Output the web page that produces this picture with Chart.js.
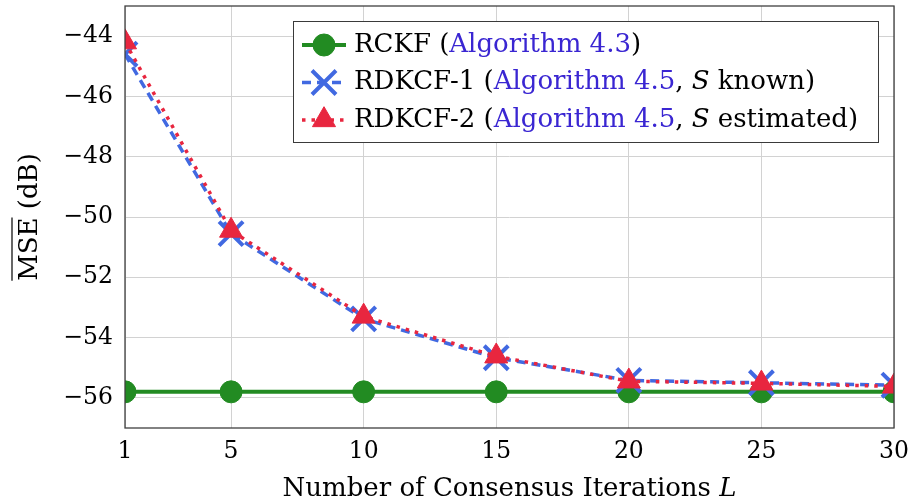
<!DOCTYPE html>
<html>
<head>
<meta charset="utf-8">
<script src="https://cdn.jsdelivr.net/npm/chart.js@4.4.1/dist/chart.umd.min.js"></script>
<style>
  html, body { margin: 0; padding: 0; background: #fff; }
  #wrap { width: 908px; height: 504px; }
</style>
</head>
<body>
<div id="wrap"><canvas id="mseChart"></canvas></div>
<script>
// consensus iterations L
const iterations = [1, 5, 10, 15, 20, 25, 30];
const xTicks = [1, 5, 10, 15, 20, 25, 30];
const yTicks = [-56, -54, -52, -50, -48, -46, -44];

// MSE in dB
const rckf   = [-55.8, -55.8, -55.8, -55.8, -55.8, -55.8, -55.8];
const rdkcf1 = [-44.6, -50.55, -53.38, -54.67, -55.42, -55.5, -55.58];
const rdkcf2 = [-44.2, -50.45, -53.3, -54.62, -55.45, -55.52, -55.62];

const BLACK = '#000';
const LINK = '#3a26d2';
const legendText = [
    [{ text: 'RCKF (', color: BLACK }, { text: 'Algorithm 4.3', color: LINK }, { text: ')', color: BLACK }],
    [{ text: 'RDKCF-1 (', color: BLACK }, { text: 'Algorithm 4.5', color: LINK }, { text: ', ', color: BLACK },
     { text: 'S', color: BLACK, italic: true }, { text: ' known)', color: BLACK }],
    [{ text: 'RDKCF-2 (', color: BLACK }, { text: 'Algorithm 4.5', color: LINK }, { text: ', ', color: BLACK },
     { text: 'S', color: BLACK, italic: true }, { text: ' estimated)', color: BLACK }]
];

const FONT = '"DejaVu Serif", serif';
const TITLE_SIZE = 26;
const toPoints = ys => iterations.map((x, i) => ({ x: x, y: ys[i] }));

// legend box in the style of pgfplots (mixed colours and italics)
const texLegend = {
    id: 'texLegend',
    afterDraw(chart) {
        const { ctx, chartArea } = chart;
        const boxW = 585, boxH = 121;
        const x0 = chartArea.right - 16 - boxW;
        const y0 = chartArea.top + 15;
        ctx.save();
        ctx.fillStyle = '#fff';
        ctx.fillRect(x0, y0, boxW, boxH);
        ctx.strokeStyle = '#3a3a3a';
        ctx.lineWidth = 1;
        ctx.strokeRect(x0 + 0.5, y0 + 0.5, boxW, boxH);

        chart.data.datasets.forEach((ds, i) => {
            const cy = y0 + 24 + i * 37.5;
            ctx.beginPath();
            ctx.setLineDash(ds.borderDash || []);
            ctx.strokeStyle = ds.borderColor;
            ctx.lineWidth = ds.borderWidth;
            ctx.moveTo(x0 + 9, cy);
            ctx.lineTo(x0 + 53, cy);
            ctx.stroke();
            ctx.setLineDash([]);

            ctx.fillStyle = ds.pointBackgroundColor;
            ctx.strokeStyle = ds.pointBorderColor;
            ctx.lineWidth = ds.pointBorderWidth;
            Chart.helpers.drawPoint(ctx, {
                pointStyle: ds.pointStyle,
                radius: ds.pointRadius,
                borderWidth: ds.pointBorderWidth,
                rotation: 0
            }, x0 + 31, cy);

            let tx = x0 + 61;
            ctx.textBaseline = 'middle';
            ctx.textAlign = 'left';
            legendText[i].forEach(seg => {
                ctx.font = (seg.italic ? 'italic ' : '') + TITLE_SIZE + 'px ' + FONT;
                ctx.fillStyle = seg.color;
                ctx.fillText(seg.text, tx, cy);
                tx += ctx.measureText(seg.text).width;
            });
        });
        ctx.restore();
    }
};

// frame + axis titles (overline on MSE, italic L)
const axisDecor = {
    id: 'axisDecor',
    afterDraw(chart) {
        const { ctx, chartArea } = chart;
        ctx.save();
        ctx.strokeStyle = '#404040';
        ctx.lineWidth = 1.3;
        ctx.strokeRect(chartArea.left, chartArea.top, chartArea.right - chartArea.left, chartArea.bottom - chartArea.top);

        // x title
        ctx.fillStyle = BLACK;
        ctx.textBaseline = 'alphabetic';
        ctx.textAlign = 'left';
        const part1 = 'Number of Consensus Iterations ';
        ctx.font = TITLE_SIZE + 'px ' + FONT;
        const w1 = ctx.measureText(part1).width;
        ctx.font = 'italic ' + TITLE_SIZE + 'px ' + FONT;
        const w2 = ctx.measureText('L').width;
        let sx = (chartArea.left + chartArea.right) / 2 - (w1 + w2) / 2;
        ctx.font = TITLE_SIZE + 'px ' + FONT;
        ctx.fillText(part1, sx, 496);
        ctx.font = 'italic ' + TITLE_SIZE + 'px ' + FONT;
        ctx.fillText('L', sx + w1, 496);

        // y title
        ctx.translate(37, (chartArea.top + chartArea.bottom) / 2);
        ctx.rotate(-Math.PI / 2);
        ctx.font = TITLE_SIZE + 'px ' + FONT;
        const full = 'MSE (dB)';
        const wf = ctx.measureText(full).width;
        const wm = ctx.measureText('MSE').width;
        ctx.fillText(full, -wf / 2, 0);
        ctx.beginPath();
        ctx.lineWidth = 1.2;
        ctx.strokeStyle = BLACK;
        ctx.moveTo(-wf / 2, -25);
        ctx.lineTo(-wf / 2 + wm, -25);
        ctx.stroke();
        ctx.restore();
    }
};

new Chart(document.getElementById('mseChart'), {
    type: 'line',
    data: {
        datasets: [
            {
                label: 'RCKF',
                data: toPoints(rckf),
                borderColor: '#228b22',
                backgroundColor: '#228b22',
                borderWidth: 4,
                pointStyle: 'circle',
                pointRadius: 11,
                pointBackgroundColor: '#228b22',
                pointBorderColor: '#228b22',
                pointBorderWidth: 1,
                order: 3
            },
            {
                label: 'RDKCF-1',
                data: toPoints(rdkcf1),
                borderColor: '#4169e1',
                backgroundColor: '#4169e1',
                borderWidth: 3.5,
                borderDash: [9, 6],
                pointStyle: 'crossRot',
                pointRadius: 17,
                pointBackgroundColor: '#4169e1',
                pointBorderColor: '#4169e1',
                pointBorderWidth: 4,
                order: 2
            },
            {
                label: 'RDKCF-2',
                data: toPoints(rdkcf2),
                borderColor: '#e8263f',
                backgroundColor: '#e8263f',
                borderWidth: 3.5,
                borderDash: [3.5, 6],
                pointStyle: 'triangle',
                pointRadius: 13.3,
                pointBackgroundColor: '#e8263f',
                pointBorderColor: '#e8263f',
                pointBorderWidth: 1,
                order: 1
            }
        ]
    },
    options: {
        responsive: true,
        maintainAspectRatio: false,
        animation: false,
        layout: { autoPadding: false, padding: { top: 6, right: 14, left: 0, bottom: 0 } },
        plugins: {
            legend: { display: false },
            tooltip: { enabled: false }
        },
        elements: { line: { tension: 0 } },
        scales: {
            x: {
                type: 'linear',
                min: 1,
                max: 30,
                afterFit: s => { s.height = 76; s.paddingLeft = 0; s.paddingRight = 0; },
                afterBuildTicks: s => { s.ticks = xTicks.map(v => ({ value: v })); },
                grid: { color: '#d2d2d2', lineWidth: 1, drawTicks: false },
                border: { display: false },
                ticks: {
                    color: BLACK,
                    padding: 10,
                    maxRotation: 0,
                    font: { family: FONT, size: 23.5 },
                    callback: v => String(v)
                }
            },
            y: {
                min: -57,
                max: -43,
                afterFit: s => { s.width = 125; s.paddingTop = 0; s.paddingBottom = 0; },
                afterBuildTicks: s => { s.ticks = yTicks.map(v => ({ value: v })); },
                grid: { color: '#d2d2d2', lineWidth: 1, drawTicks: false },
                border: { display: false },
                ticks: {
                    color: BLACK,
                    padding: 12,
                    font: { family: FONT, size: 23.5 },
                    callback: v => (v < 0 ? '\u2212' + Math.abs(v) : String(v))
                }
            }
        }
    },
    plugins: [texLegend, axisDecor]
});
</script>
</body>
</html>
